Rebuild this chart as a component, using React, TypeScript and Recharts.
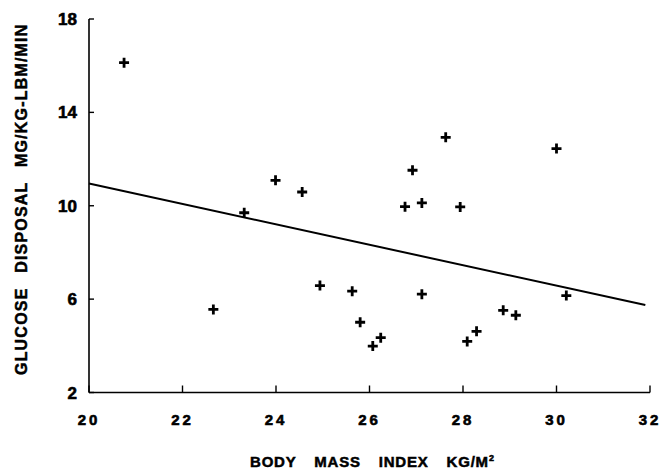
import React from 'react'
import { ScatterChart, Scatter, XAxis, YAxis } from 'recharts'

// body mass index (kg/m2) vs glucose disposal (mg/kg-LBM/min)
const bmi = [
  20.75, 22.66, 23.32, 23.99, 24.56, 24.94, 25.63, 25.8, 26.07, 26.24, 26.76,
  26.92, 27.12, 27.12, 27.63, 27.94, 28.09, 28.29, 28.86, 29.13, 30.0, 30.21,
]
const glucose = [
  16.13, 5.56, 9.7, 11.09, 10.59, 6.58, 6.34, 5.01, 3.99, 4.35, 9.96,
  11.52, 10.12, 6.21, 12.93, 9.95, 4.19, 4.62, 5.52, 5.31, 12.45, 6.15,
]
// regression line end points
const fitX = [20, 31.9]
const fitY = [10.95, 5.75]

const xTicks = [20, 22, 24, 26, 28, 30, 32]
const yTicks = [2, 6, 10, 14, 18]

const points = bmi.map((x, i) => ({ x, y: glucose[i] }))
const fitLine = fitX.map((x, i) => ({ x, y: fitY[i] }))

const font = '"Liberation Sans", Arial, sans-serif'
// scanned print looks heavy, so thicken the glyphs a bit
const heavy = { WebkitTextStroke: '0.5px #000' } as React.CSSProperties

function Plus(props: any) {
  const { cx, cy } = props
  if (cx == null || cy == null) return <g />
  return (
    <path
      d={`M${cx - 5},${cy}H${cx + 5}M${cx},${cy - 5}V${cy + 5}`}
      stroke="#000"
      strokeWidth={2.8}
      fill="none"
    />
  )
}

export default function App() {
  return (
    <div style={{ position: 'absolute', left: 0, top: 0, width: 662, height: 470, background: '#fff' }}>
      <ScatterChart width={662} height={470} margin={{ top: 19, right: 12, bottom: 0, left: 0 }}>
        <XAxis
          type="number"
          dataKey="x"
          domain={[20, 32]}
          ticks={xTicks}
          height={77.5}
          axisLine={{ stroke: '#000', strokeWidth: 1.6 }}
          tickLine={{ stroke: '#000', strokeWidth: 1.4 }}
          tickSize={-7}
          tickMargin={29}
          tick={{ fill: '#000', stroke: '#000', strokeWidth: 0.6, fontSize: 15, fontWeight: 700, fontFamily: font, letterSpacing: 3 }}
        />
        <YAxis
          type="number"
          dataKey="y"
          domain={[2, 18]}
          ticks={yTicks}
          width={89}
          axisLine={{ stroke: '#000', strokeWidth: 1.6 }}
          tickLine={{ stroke: '#000', strokeWidth: 1.4 }}
          tickSize={-5}
          tickMargin={17}
          tick={{ fill: '#000', stroke: '#000', strokeWidth: 0.6, fontSize: 17, fontWeight: 700, fontFamily: font }}
        />
        <Scatter data={points} shape={<Plus />} isAnimationActive={false} />
        <Scatter
          data={fitLine}
          line={{ stroke: '#000', strokeWidth: 2 }}
          shape={() => <g />}
          isAnimationActive={false}
        />
      </ScatterChart>
      <div
        style={{
          position: 'absolute',
          left: 250,
          top: 453,
          fontFamily: font,
          fontWeight: 700,
          fontSize: 15,
          letterSpacing: 0.8,
          wordSpacing: 13,
          whiteSpace: 'nowrap',
          lineHeight: '18px',
          ...heavy,
        }}
      >
        BODY MASS INDEX KG/M<sup style={{ fontSize: 9, verticalAlign: 'top', position: 'relative', top: -4 }}>2</sup>
      </div>
      <div
        style={{
          position: 'absolute',
          left: 22 - 175,
          top: 200 - 9,
          width: 350,
          textAlign: 'center',
          transform: 'rotate(-90deg)',
          transformOrigin: 'center',
          fontFamily: font,
          fontWeight: 700,
          fontSize: 16,
          letterSpacing: 1.2,
          wordSpacing: 9,
          whiteSpace: 'nowrap',
          lineHeight: '18px',
          ...heavy,
        }}
      >
        GLUCOSE DISPOSAL MG/KG-LBM/MIN
      </div>
    </div>
  )
}
